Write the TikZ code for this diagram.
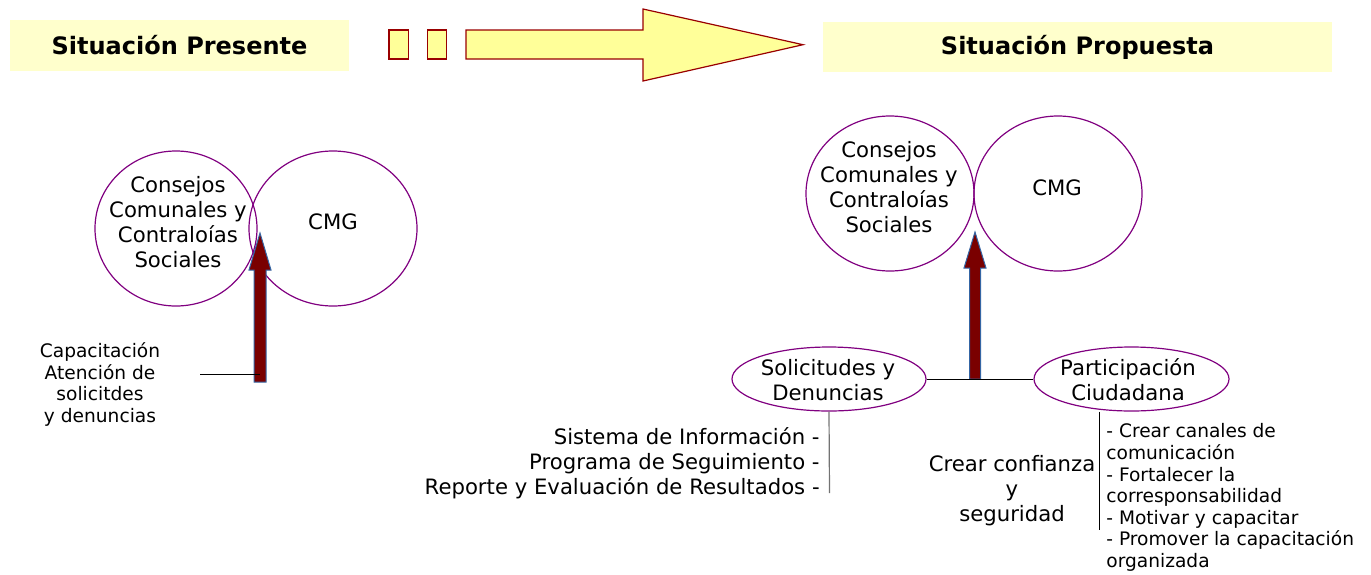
\documentclass[tikz,border=0pt]{standalone}
\usepackage{fontspec}
\setmainfont{DejaVu Sans}
\usepackage{xcolor}
\usetikzlibrary{shapes.geometric, positioning}

\definecolor{headfill}{HTML}{FFFFCC}
\definecolor{arrowfill}{HTML}{FFFF99}
\definecolor{arrowline}{HTML}{990000}
\definecolor{bubbleline}{HTML}{800080}
\definecolor{maroonfill}{HTML}{7A0000}
\definecolor{edgeblue}{HTML}{3465A4}

\begin{document}
\begin{tikzpicture}[x=0.5pt, y=-0.5pt,
  heading/.style={fill=headfill, inner sep=0pt, font=\fontsize{12}{14}\selectfont\bfseries},
  bubble/.style={ellipse, draw=bubbleline, line width=0.6pt, inner sep=0pt},
  txt/.style={inner sep=0pt, align=center, font=\fontsize{10.6}{12.5}\selectfont},
  smalltxt/.style={inner sep=0pt, font=\fontsize{9.3}{10.8}\selectfont},
  blockarrow/.style={fill=arrowfill, draw=arrowline, line width=0.6pt},
  bigarrow/.style={fill=maroonfill, draw=edgeblue, line width=0.5pt},
  link/.style={draw=black, line width=0.5pt}]
\useasboundingbox (0,0) rectangle (1371,574);

% titles
\node[heading, minimum width=169.5pt, minimum height=25.5pt] (presente) at (179.5,45.5) {Situación Presente};
\node[heading, minimum width=254.5pt, minimum height=25pt] (propuesta) at (1077.5,47) {Situación Propuesta};

% transition arrow
\draw[blockarrow] (389,30) rectangle (408.5,59);
\draw[blockarrow] (427.7,30) rectangle (446.7,59);
\draw[blockarrow] (466,30) -- (643,30) -- (643,9) -- (803,44.7) -- (643,81) -- (643,59) -- (466,59) -- cycle;

% present situation
\node[bubble, minimum width=81pt, minimum height=77.5pt] (consejosA) at (176,228.5) {};
\node[bubble, minimum width=84pt, minimum height=77.5pt] (cmgA) at (333,228.5) {};
\node[txt] (consejosAtxt) at (178,222.5) {Consejos\\Comunales y\\Contraloías\\Sociales};
\node[txt] (cmgAtxt) at (333,222) {CMG};
\draw[bigarrow] (254,382) -- (254,270) -- (249,270) -- (260,233) -- (271,270) -- (266,270) -- (266,382) -- cycle;
\node[smalltxt, align=center] (capacitacion) at (100,384.5) {Capacitación\\Atención de\\solicitdes\\y denuncias};
\coordinate (capEnd) at (200,374);
\coordinate (arrowA) at (260,374);
\draw[link] (capEnd) -- (arrowA);

% proposed situation
\node[bubble, minimum width=84pt, minimum height=77.5pt] (consejosB) at (890,193.5) {};
\node[bubble, minimum width=84pt, minimum height=77.5pt] (cmgB) at (1058,193.5) {};
\node[txt] (consejosBtxt) at (889,187.5) {Consejos\\Comunales y\\Contraloías\\Sociales};
\node[txt] (cmgBtxt) at (1057,188) {CMG};
\draw[bigarrow] (969.5,379) -- (969.5,268) -- (964,268) -- (975,232) -- (986,268) -- (980.5,268) -- (980.5,379) -- cycle;

\node[bubble, minimum width=97pt, minimum height=32pt] (solicitudes) at (829,379) {};
\node[bubble, minimum width=97.5pt, minimum height=32pt] (participacion) at (1131.5,379) {};
\node[txt] (solicitudesTxt) at (828,380) {Solicitudes y\\Denuncias};
\node[txt] (participacionTxt) at (1128,380) {Participación\\Ciudadana};
\draw[link] (solicitudes.east) -- (participacion.west);

\coordinate (sistemaEnd) at (829.5,493);
\draw[draw=black!55, line width=0.6pt] (solicitudes.south) -- (sistemaEnd);
\node[txt, align=right, anchor=east] (sistema) at (820,463) {Sistema de Información -\\Programa de Seguimiento -\\Reporte y Evaluación de Resultados -};

\coordinate (crearEnd) at (1099.5,530);
\draw[link] (participacion.south -| crearEnd) -- (crearEnd);
\node[txt] (confianza) at (1012,491) {Crear confianza\\y\\seguridad};
\node[smalltxt, align=left, anchor=west] (acciones) at (1106,497.5) {- Crear canales de\\comunicación\\- Fortalecer la\\corresponsabilidad\\- Motivar y capacitar\\- Promover la capacitación\\organizada};
\end{tikzpicture}
\end{document}
